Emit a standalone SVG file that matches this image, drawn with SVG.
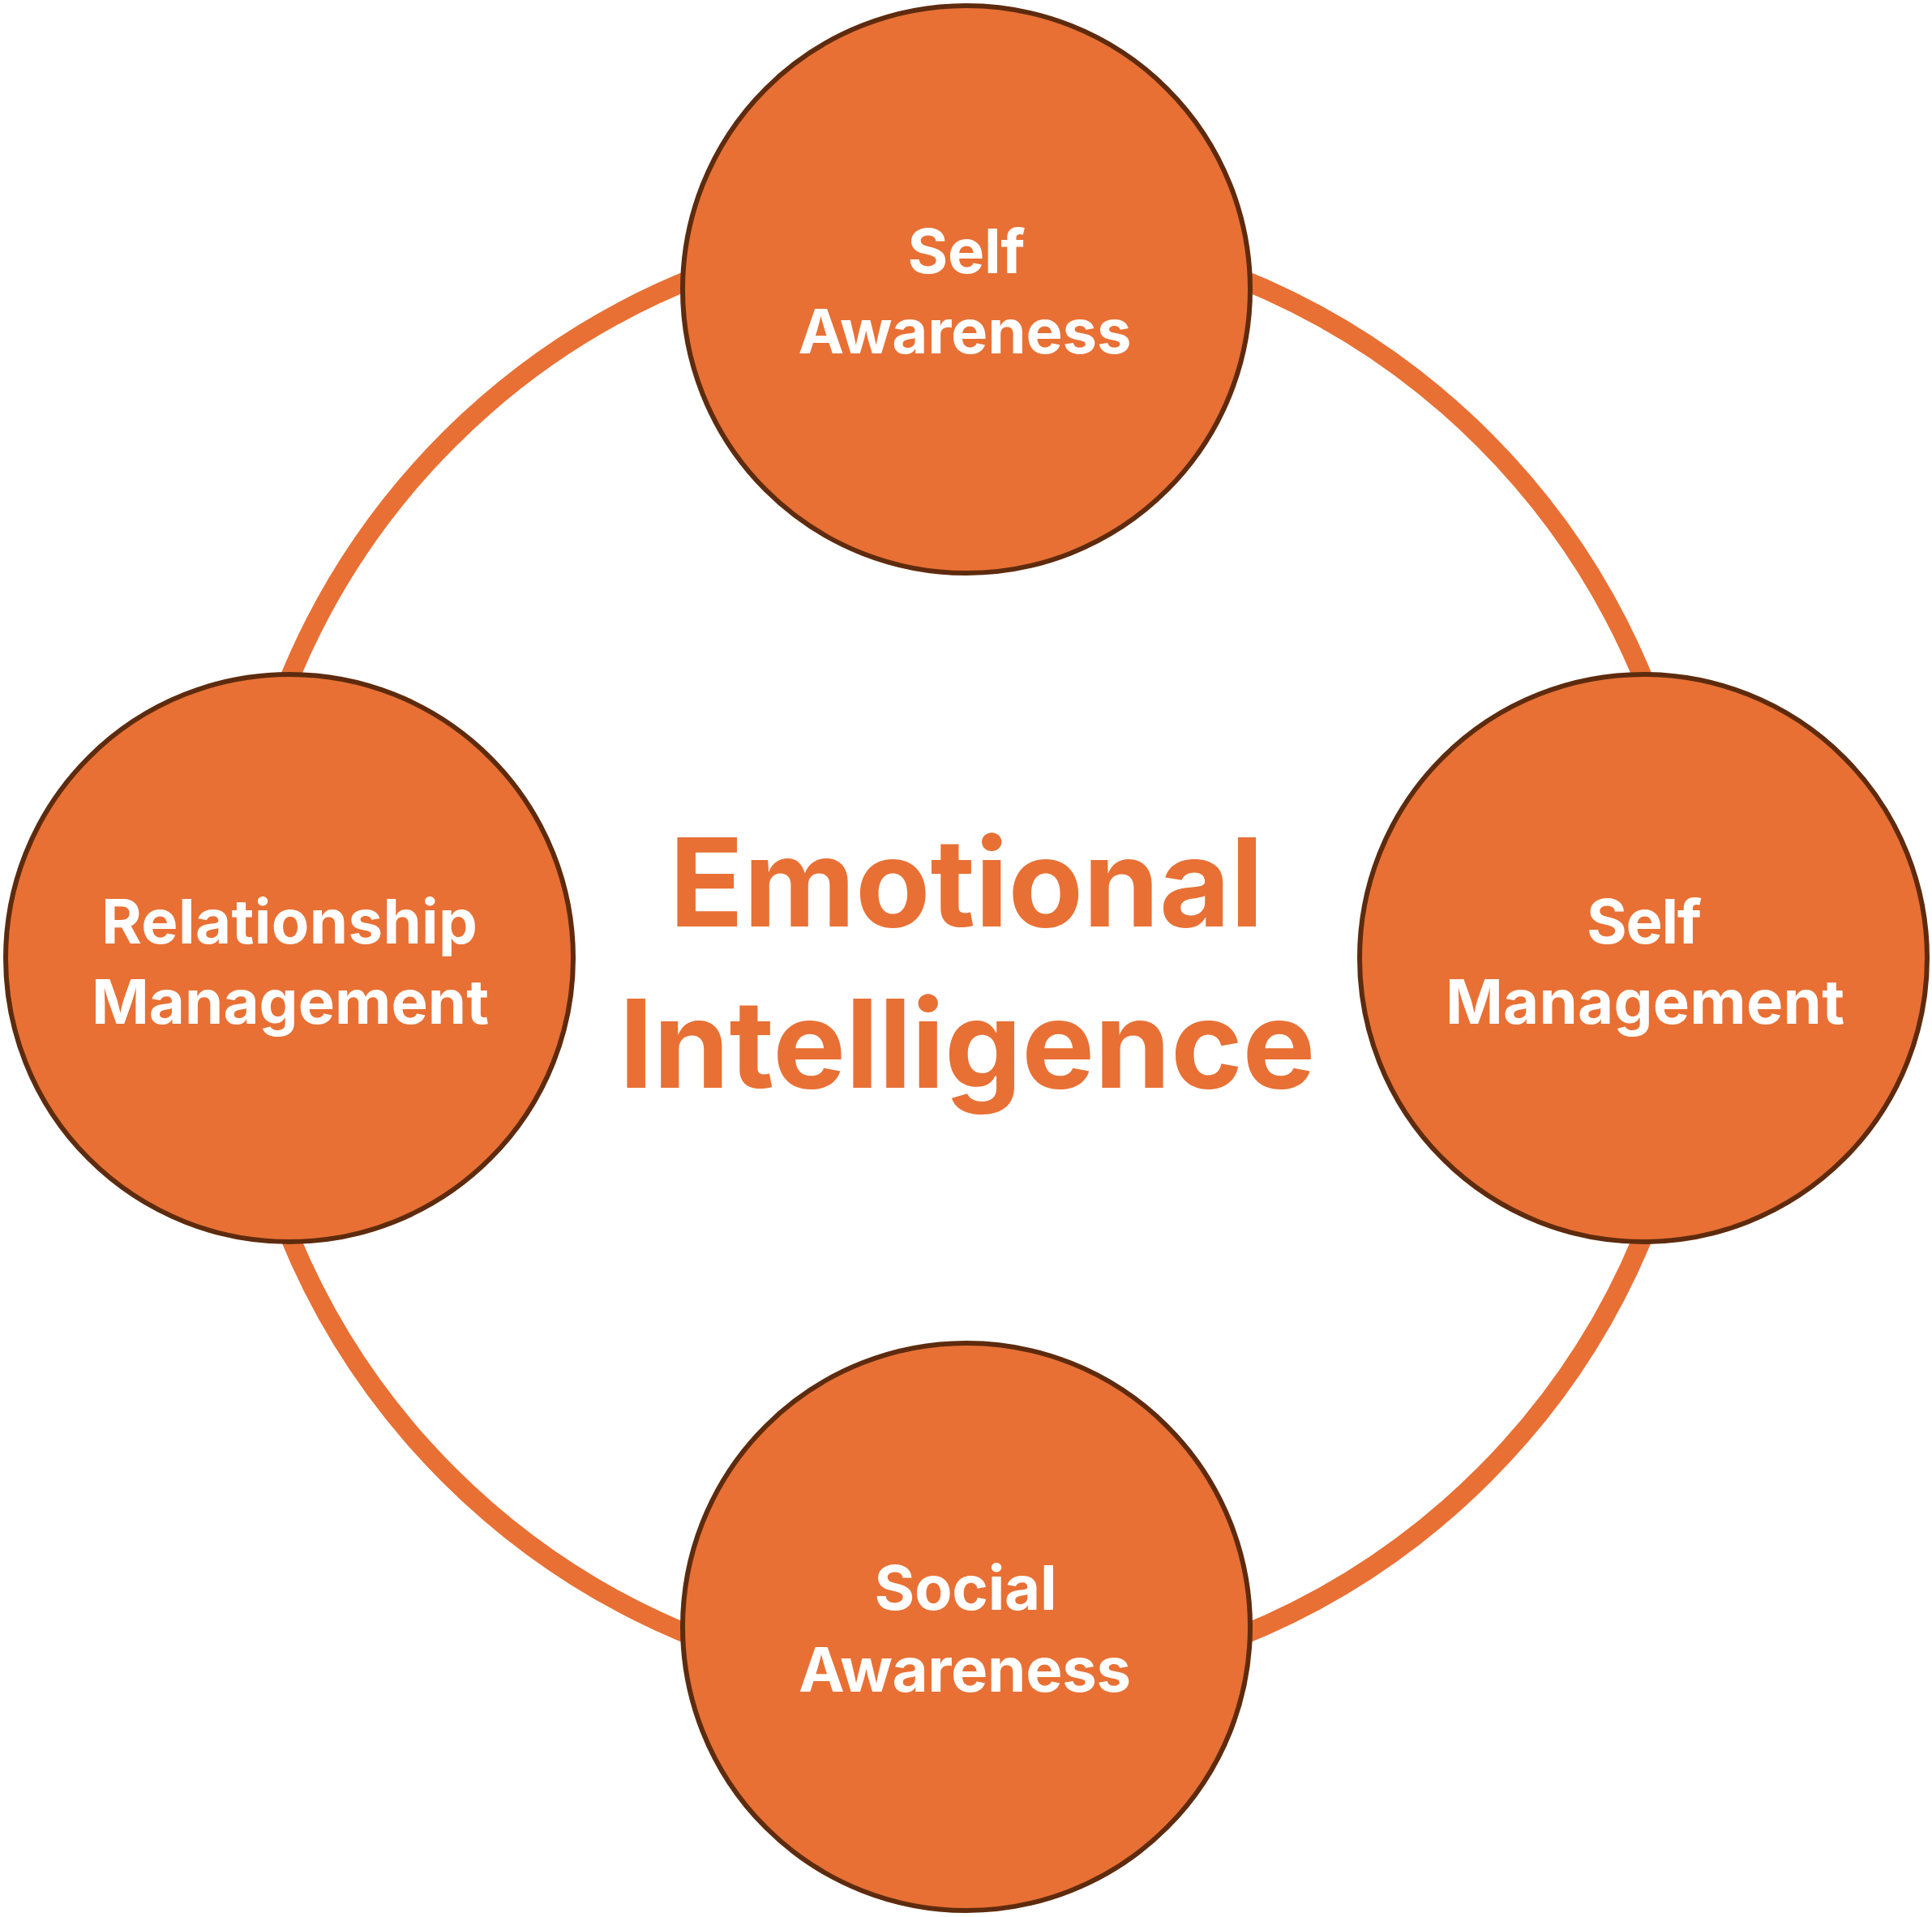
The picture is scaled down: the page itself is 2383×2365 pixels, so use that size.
<svg xmlns="http://www.w3.org/2000/svg" width="2383" height="2365" viewBox="0 0 2383 2365">
  <style>
    .node { fill: #E87034; stroke: #5E2B0E; stroke-width: 6; }
    .label { font-family: Inter, Roboto, "Liberation Sans", sans-serif; font-weight: 700; font-size: 76px; fill: #FFFFFF; text-anchor: middle; font-variant-ligatures: none; }
    .title { font-family: Inter, Roboto, "Liberation Sans", sans-serif; font-weight: 700; font-size: 151px; fill: #E87034; text-anchor: middle; font-variant-ligatures: none; }
    .ring { fill: none; stroke: #E87034; stroke-width: 24; }
  </style>
  <rect width="2383" height="2365" fill="#FFFFFF"/>
  <g id="connectors">
    <circle class="ring" cx="1192" cy="1181" r="903"/>
  </g>
  <g id="node-self-awareness">
    <circle class="node" cx="1192" cy="357" r="350"/>
    <text class="label" x="1192" y="337" textLength="145" lengthAdjust="spacing">Self</text>
    <text class="label" x="1190" y="436" textLength="411" lengthAdjust="spacing">Awareness</text>
  </g>
  <g id="node-relationship-management">
    <circle class="node" cx="357" cy="1182" r="350"/>
    <text class="label" x="357" y="1164" textLength="464" lengthAdjust="spacing">Relationship</text>
    <text class="label" x="358" y="1263" textLength="490" lengthAdjust="spacing">Management</text>
  </g>
  <g id="node-self-management">
    <circle class="node" cx="2027" cy="1182" r="350"/>
    <text class="label" x="2028" y="1164" textLength="142" lengthAdjust="spacing">Self</text>
    <text class="label" x="2029" y="1263" textLength="492" lengthAdjust="spacing">Management</text>
  </g>
  <g id="node-social-awareness">
    <circle class="node" cx="1192" cy="2007" r="350"/>
    <text class="label" x="1191" y="1986" textLength="225" lengthAdjust="spacing">Social</text>
    <text class="label" x="1190" y="2087" textLength="410" lengthAdjust="spacing">Awareness</text>
  </g>
  <g id="title">
    <text class="title" x="1192" y="1143" textLength="733" lengthAdjust="spacing">Emotional</text>
    <text class="title" x="1193" y="1342" textLength="859" lengthAdjust="spacing">Intelligence</text>
  </g>
</svg>
